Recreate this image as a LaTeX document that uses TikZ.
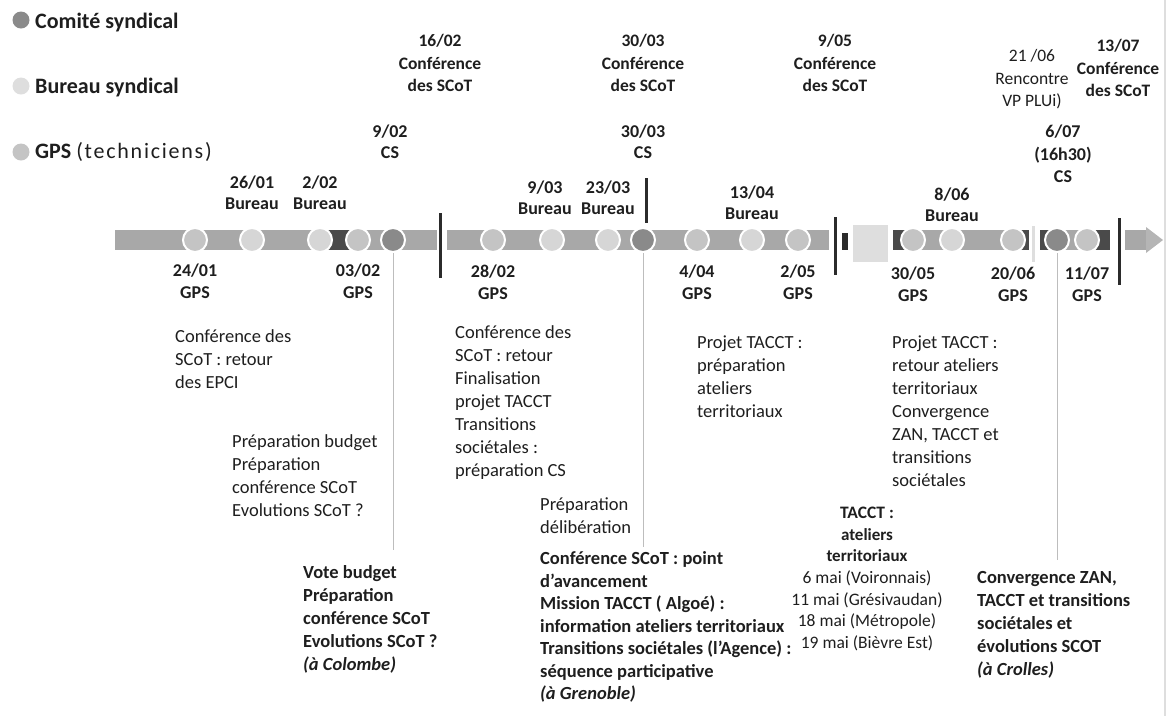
\documentclass[tikz,border=0pt]{standalone}
\usepackage{fontspec}
\setmainfont{Carlito}
\usetikzlibrary{positioning}
\definecolor{ink}{HTML}{1E1E1E}
\definecolor{bargray}{HTML}{A8A8A8}
\definecolor{gpsgray}{HTML}{C4C4C4}
\definecolor{burgray}{HTML}{D6D6D6}
\definecolor{csgray}{HTML}{8A8A8A}
\definecolor{darkseg}{HTML}{4A4A4A}
\definecolor{rulecol}{HTML}{2B2B2B}
\definecolor{conncol}{HTML}{BDBDBD}
\definecolor{boxgray}{HTML}{DEDEDE}

\begin{document}
\begin{tikzpicture}[x=1pt, y=-1pt,
    dot/.style={circle, draw=white, line width=2pt, minimum size=24pt, inner sep=0pt},
    gpsdot/.style={dot, fill=gpsgray},
    burdot/.style={dot, fill=burgray},
    csdot/.style={dot, fill=csgray},
    datelbl/.style={inner sep=0pt, align=center, text=ink, font=\bfseries\fontsize{18}{21.5}\selectfont},
    conf/.style={datelbl, anchor=north, font=\bfseries\fontsize{17.5}{22.5}\selectfont},
    notetxt/.style={inner sep=0pt, anchor=north west, align=left, text=ink, font=\fontsize{18.5}{23}\selectfont},
    boldnote/.style={notetxt, font=\bfseries\fontsize{18.5}{23}\selectfont},
    legtxt/.style={inner sep=0pt, anchor=base west, text=ink, font=\bfseries\fontsize{22}{26}\selectfont},
    blackrule/.style={draw=rulecol, line width=3pt},
    conn/.style={draw=conncol, line width=1pt}]
  \useasboundingbox (0,0) rectangle (1172,716);
  % scan edge
  \draw [draw=boxgray, line width=1.5pt] (1165,0) -- (1165,716);

  % legend
  \node (kcs) [circle, fill=csgray, minimum size=17pt, inner sep=0pt] at (21,20) {};
  \node (kbur) [circle, fill=burgray!80!white, minimum size=17pt, inner sep=0pt] at (21,86) {};
  \node (kgps) [circle, fill=gpsgray, minimum size=17pt, inner sep=0pt] at (21,152) {};
  \node (lcs) [legtxt] at (35,28) {Comité syndical};
  \node (lbur) [legtxt] at (35,93) {Bureau syndical};
  \node (lgps) [legtxt] at (35,158) {GPS {\mdseries\addfontfeature{LetterSpace=8}(techniciens)}};

  % the bar
  \fill [bargray] (115,230) rectangle (437,250);
  \fill [bargray] (447,230) rectangle (829,250);
  \fill [bargray] (893,230) rectangle (1029,250);
  \fill [bargray] (1040,230) rectangle (1110,250);
  \fill [bargray] (1125,230) rectangle (1148,250);
  \fill [bargray!85!white] (1146,227) -- (1163,240) -- (1146,253) -- cycle;
  \fill [darkseg] (328,230) rectangle (350,250);
  \fill [darkseg] (893,230) rectangle (905,250);
  \fill [darkseg] (1019,230) rectangle (1029,250);
  \fill [darkseg] (1040,230) rectangle (1050,250);
  \fill [darkseg] (1096,230) rectangle (1110,250);
  \fill [rulecol] (842,233) rectangle (848,250);
  \fill [boxgray] (853,225) rectangle (888,262);
  \draw [draw=boxgray, line width=3pt] (1033,226) -- (1033,262);
  \draw [blackrule] (440,213) -- (440,278);
  \draw [blackrule] (646,178) -- (646,223);
  \draw [blackrule] (835,217) -- (835,275);
  \draw [blackrule] (1119,218) -- (1119,285);

  % meetings on the bar
  \node (g2401) [gpsdot] at (195,240) {};
  \node (b2601) [burdot] at (252,240) {};
  \node (b0202) [burdot] at (320,240) {};
  \node (g0302) [gpsdot] at (358,240) {};
  \node (d0902) [csdot] at (393,240) {};
  \node (g2802) [gpsdot] at (493,240) {};
  \node (b0903) [burdot] at (552,240) {};
  \node (b2303) [burdot] at (608,240) {};
  \node (d3003) [csdot] at (643,240) {};
  \node (g0404) [gpsdot] at (697,240) {};
  \node (b1304) [burdot] at (752,240) {};
  \node (g0205) [gpsdot] at (798,240) {};
  \node (g3005) [gpsdot] at (913,240) {};
  \node (b0806) [burdot] at (952,240) {};
  \node (g2006) [gpsdot] at (1013,240) {};
  \node (d0607) [csdot] at (1057,240) {};
  \node (g1107) [gpsdot] at (1087,240) {};

  % GPS below
  \node (tg2401) [datelbl, below=8.5pt of g2401] {\strut 24/01\\GPS};
  \node (tg0302) [datelbl, below=8.5pt of g0302] {\strut 03/02\\GPS};
  \node (tg2802) [datelbl, below=9.5pt of g2802] {\strut 28/02\\GPS};
  \node (tg0404) [datelbl, below=9.5pt of g0404] {\strut 4/04\\GPS};
  \node (tg0205) [datelbl, below=9.5pt of g0205] {\strut 2/05\\GPS};
  \node (tg3005) [datelbl, below=11.5pt of g3005] {\strut 30/05\\GPS};
  \node (tg2006) [datelbl, below=11.5pt of g2006] {\strut 20/06\\GPS};
  \node (tg1107) [datelbl, below=11.5pt of g1107] {\strut 11/07\\GPS};

  % Bureau above
  \node (tb2601) [datelbl, above=17pt of b2601] {\strut 26/01\\Bureau};
  \node (tb0202) [datelbl, above=17pt of b0202] {\strut 2/02\\Bureau};
  \node (tb0903) [datelbl, above=12pt of b0903, xshift=-7pt] {\strut 9/03\\Bureau};
  \node (tb2303) [datelbl, above=12pt of b2303] {\strut 23/03\\Bureau};
  \node (tb1304) [datelbl, above=7pt of b1304] {\strut 13/04\\Bureau};
  \node (tb0806) [datelbl, above=5pt of b0806] {\strut 8/06\\Bureau};

  % CS
  \node (td0902) [datelbl, anchor=north] at (390,122) {\strut 9/02\\CS};
  \node (td3003) [datelbl, anchor=north] at (643,122) {\strut 30/03\\CS};
  \node (td0607) [datelbl, anchor=north, font=\bfseries\fontsize{18}{22.5}\selectfont] at (1063,122) {\strut 6/07\\(16h30)\\CS};

  % conferences at the top
  \node (c1602) [conf] at (440,31) {\strut 16/02\\Conférence\\des SCoT};
  \node (c3003) [conf] at (643,31) {\strut 30/03\\Conférence\\des SCoT};
  \node (c0905) [conf] at (835,31) {\strut 9/05\\Conférence\\des SCoT};
  \node (c1307) [conf] at (1118,36) {\strut 13/07\\Conférence\\des SCoT};
  \node (r2106) [conf, font=\fontsize{17.5}{22.5}\selectfont] at (1032,46) {\strut 21 /06\\Rencontre\\VP PLUi)};

  % notes below the bar
  \node (n2401) [notetxt] at (175,326) {\strut Conférence des\\SCoT : retour\\des EPCI};
  \node (n0302) [notetxt] at (232,431) {\strut Préparation budget\\Préparation\\conférence SCoT\\Evolutions SCoT ?};
  \node (n0902) [boldnote] at (303,562) {\strut Vote budget\\Préparation\\conférence SCoT\\Evolutions SCoT ?\\\textit{(à Colombe)}};
  \node (n2802) [notetxt] at (455,322) {\strut Conférence des\\SCoT : retour\\Finalisation\\projet TACCT\\Transitions\\sociétales :\\préparation CS};
  \node (n2303) [notetxt] at (540,494) {\strut Préparation\\délibération};
  \node (n3003) [boldnote, font=\bfseries\fontsize{18.5}{22.5}\selectfont] at (540,549) {\strut Conférence SCoT : point\\d’avancement\\Mission TACCT ( Algoé) :\\information ateliers territoriaux\\Transitions sociétales (l’Agence) :\\séquence participative\\\textit{(à Grenoble)}};
  \node (n0404) [notetxt] at (697,332) {\strut Projet TACCT :\\préparation\\ateliers\\territoriaux};
  \node (n3005) [notetxt] at (892,332) {\strut Projet TACCT :\\retour ateliers\\territoriaux\\Convergence\\ZAN, TACCT et\\transitions\\sociétales};
  \node (n0505) [anchor=north, inner sep=0pt, align=center, text=ink, font=\fontsize{17.5}{21.7}\selectfont] at (867,503) {\strut\textbf{TACCT :}\\\textbf{\fontsize{17}{21.7}\selectfont ateliers}\\\textbf{\fontsize{17}{21.7}\selectfont territoriaux}\\6 mai (Voironnais)\\11 mai (Grésivaudan)\\18 mai (Métropole)\\19 mai (Bièvre Est)};
  \node (n0607) [boldnote] at (977,567) {\strut Convergence ZAN,\\TACCT et transitions\\sociétales et\\évolutions SCOT\\\textit{(à Crolles)}};

  \draw [conn, shorten >=12pt] (d0902) to (d0902 |- n0902.north);
  \draw [conn, shorten >=2pt] (d3003) to (d3003 |- n3003.north);
  \draw [conn, shorten >=7pt] (d0607) to (d0607 |- n0607.north);
\end{tikzpicture}
\end{document}
